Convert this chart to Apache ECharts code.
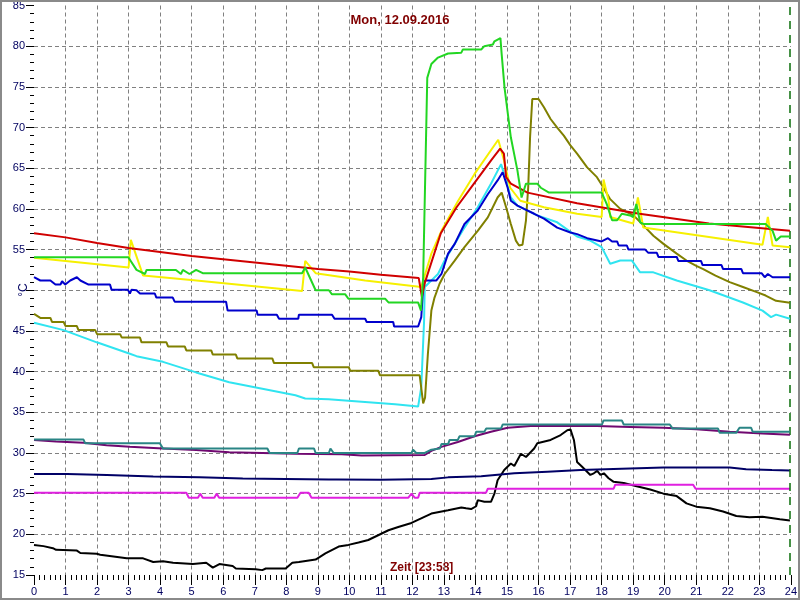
<!DOCTYPE html>
<html>
<head>
<meta charset="utf-8">
<script src="https://cdn.jsdelivr.net/npm/echarts@6/dist/echarts.min.js"></script>
<style>html,body{margin:0;padding:0;background:#fff}#c{width:800px;height:600px}</style>
</head>
<body>
<div id="c"></div>
<script>
// ---- data: [hour, °C] ----
const title = 'Mon, 12.09.2016';
const xName = 'Zeit [23:58]';
const yUnit = '°C';
const nowHour = 23.97;
const xTicks = [0, 24, 1];   // min, max, step (hours)
const yTicks = [15, 85, 5];  // min, max, step (°C)

const green = [[0,54.05],[2.99,54.05],[3.25,52.5],[3.52,52.0],[3.57,52.5],[4.5,52.5],[4.66,52.0],[4.72,52.5],[4.93,52.0],[5.14,52.5],[5.35,52.1],[8.5,52.1],[8.6,52.8],[8.93,50.0],[9.35,50.0],[9.45,49.5],[9.87,49.5],[9.97,48.95],[11.14,48.95],[11.24,48.5],[12.18,48.5],[12.27,47.5],[12.34,51.6],[12.47,76.1],[12.6,77.8],[12.81,78.6],[13.13,79.1],[13.55,79.2],[13.6,79.6],[14.18,79.6],[14.28,80.0],[14.55,80.2],[14.6,80.6],[14.79,81.0],[14.83,79.0],[14.92,74.9],[15.12,68.8],[15.33,64.7],[15.46,61.4],[15.6,63.1],[15.96,63.1],[16.07,62.6],[16.33,62.0],[18.0,62.0],[18.16,60.6],[18.33,58.6],[18.49,58.6],[18.64,59.4],[18.9,59.2],[19.0,59.0],[19.1,60.6],[19.22,58.35],[19.32,58.15],[23.2,58.15],[23.42,57.3],[23.53,56.1],[23.68,56.6],[23.97,56.6]];
const yellow = [[0,54.0],[1,53.6],[2,53.2],[3.0,52.8],[3.07,56.2],[3.46,51.8],[5.15,51.2],[8.5,49.9],[8.6,53.6],[8.93,52.1],[10.5,51.2],[12.28,50.4],[12.6,54.5],[12.92,57.3],[13.45,61.0],[13.97,64.3],[14.72,68.5],[14.9,66.0],[15.1,62.6],[15.42,61.0],[16.17,60.2],[17.22,59.4],[18.0,59.0],[18.06,63.6],[18.22,61.0],[18.27,59.0],[19.0,58.2],[19.15,61.4],[19.32,57.7],[23.1,55.6],[23.27,59.0],[23.42,55.5],[23.97,55.3]];
const red = [[0,57.0],[1,56.5],[2,55.8],[3,55.2],[4,54.7],[5,54.2],[6,53.8],[7,53.4],[8,53.0],[9,52.6],[10,52.3],[11,51.9],[12.2,51.5],[12.3,49.2],[12.4,51.0],[12.9,57.0],[13.4,60.2],[13.95,63.1],[14.5,66.0],[14.78,67.4],[14.9,66.8],[14.97,63.9],[15.12,63.1],[15.65,62.0],[17.22,60.7],[19.2,59.4],[21.4,58.2],[23.97,57.3]];
const blue = [[0,51.6],[0.2,51.2],[0.52,51.2],[0.68,50.7],[0.84,50.7],[0.89,51.1],[0.99,50.7],[1.15,51.2],[1.36,51.6],[1.47,51.2],[1.73,50.7],[2.41,50.7],[2.46,50.05],[2.98,50.05],[3.04,49.6],[3.09,50.05],[3.25,50.0],[3.36,49.6],[3.83,49.6],[3.88,49.1],[4.4,49.1],[4.46,48.6],[6.09,48.6],[6.14,47.5],[7.06,47.5],[7.09,47.0],[7.7,47.0],[7.77,46.5],[8.38,46.5],[8.4,47.0],[9.45,47.0],[9.53,46.5],[10.5,46.5],[10.55,46.1],[11.39,46.1],[11.42,45.55],[12.18,45.55],[12.28,46.7],[12.34,50.4],[12.39,51.2],[12.76,51.2],[12.92,52.0],[13.13,54.5],[13.34,55.7],[13.65,58.15],[14.07,59.8],[14.39,61.8],[14.7,63.5],[14.86,64.5],[15.02,62.6],[15.12,61.0],[15.33,60.4],[15.54,60.0],[15.86,59.4],[16.17,58.8],[16.59,57.7],[17.01,57.1],[17.22,56.9],[17.54,56.4],[18.0,56.0],[18.2,56.4],[18.33,56.0],[18.49,56.0],[18.54,55.5],[18.8,55.5],[18.85,55.0],[19.38,55.0],[19.48,54.6],[19.75,54.6],[19.8,54.1],[20.38,54.1],[20.43,53.6],[21.15,53.6],[21.2,53.1],[21.8,53.1],[21.85,52.6],[22.43,52.6],[22.48,52.1],[23.07,52.1],[23.17,51.6],[23.27,52.0],[23.42,51.6],[23.97,51.6]];
const olive = [[0,47.1],[0.2,46.6],[0.52,46.6],[0.57,46.1],[0.94,46.1],[1.0,45.6],[1.36,45.6],[1.41,45.1],[1.94,45.1],[2.0,44.6],[2.73,44.6],[2.78,44.2],[3.36,44.2],[3.41,43.6],[4.2,43.6],[4.25,43.1],[4.78,43.1],[4.83,42.6],[5.62,42.6],[5.67,42.1],[6.4,42.1],[6.45,41.6],[7.56,41.6],[7.61,41.05],[8.82,41.05],[8.87,40.55],[9.98,40.55],[10.03,40.1],[10.92,40.1],[10.97,39.55],[12.23,39.55],[12.34,36.1],[12.4,36.8],[12.49,42.2],[12.6,47.5],[12.7,49.1],[12.86,50.8],[13.02,52.0],[13.34,53.65],[13.65,55.3],[14.07,57.3],[14.39,58.96],[14.7,61.4],[14.83,62.0],[14.97,60.2],[15.12,58.15],[15.28,56.1],[15.38,55.5],[15.49,55.6],[15.6,58.6],[15.67,62.6],[15.73,68.8],[15.8,73.5],[16.0,73.5],[16.17,72.5],[16.38,71.05],[16.59,70.0],[16.8,69.0],[17.01,67.8],[17.22,66.8],[17.54,65.1],[17.85,63.9],[18.06,62.6],[18.27,61.2],[18.59,60.0],[19.01,59.2],[19.33,57.95],[19.64,56.7],[19.96,55.7],[20.38,54.5],[20.69,53.65],[21.0,53.0],[21.22,52.6],[21.61,51.8],[22.06,51.0],[22.48,50.4],[22.9,49.8],[23.2,49.35],[23.53,48.7],[23.97,48.45]];
const cyan = [[0,46.0],[0.94,45.1],[1.99,43.6],[3.04,42.2],[3.25,41.9],[4.09,41.2],[5.14,39.9],[6.19,38.7],[7.24,37.9],[8.29,37.1],[8.6,36.7],[9.34,36.6],[10.39,36.3],[11.45,36.0],[12.18,35.7],[12.23,35.85],[12.28,38.1],[12.37,46.3],[12.39,50.4],[12.6,51.2],[12.81,52.0],[13.02,53.65],[13.34,55.7],[13.65,57.7],[14.07,60.2],[14.49,63.1],[14.81,65.5],[14.97,63.5],[15.12,61.4],[15.33,60.4],[15.96,59.2],[16.59,58.35],[17.22,56.6],[17.64,56.1],[18.0,55.3],[18.27,53.25],[18.59,53.65],[18.96,53.65],[19.22,52.2],[19.64,52.2],[20.38,51.2],[21.42,50.0],[22.48,48.5],[23.1,47.5],[23.37,46.7],[23.53,47.0],[23.97,46.5]];
const teal = [[0,31.65],[1.57,31.65],[1.62,31.2],[3.99,31.2],[4.09,30.55],[7.4,30.55],[7.47,30.0],[8.35,30.0],[8.4,30.55],[8.88,30.55],[8.93,30.0],[9.35,30.0],[9.4,30.55],[9.5,30.0],[11.97,30.0],[12.02,30.4],[12.12,30.0],[12.39,30.0],[12.6,30.4],[12.87,30.55],[12.92,31.1],[13.13,31.1],[13.18,31.6],[13.44,31.6],[13.49,32.05],[13.97,32.05],[14.02,32.6],[14.28,32.6],[14.34,33.0],[14.81,33.0],[14.86,33.5],[18.01,33.5],[18.06,34.0],[18.64,34.0],[18.7,33.5],[20.16,33.5],[20.25,33.0],[21.69,33.0],[21.74,32.5],[22.27,32.5],[22.37,33.1],[22.74,33.1],[22.79,32.6],[23.97,32.6]];
const purple = [[0,31.6],[0.7,31.4],[1.57,31.25],[2.3,30.95],[3.04,30.75],[4.09,30.55],[5.14,30.35],[6.19,30.1],[7.24,30.0],[8.29,29.9],[9.76,29.85],[10.39,29.7],[12.39,29.75],[12.6,30.25],[12.92,30.75],[13.44,31.35],[13.97,32.05],[14.49,32.6],[15.02,33.1],[15.75,33.3],[16.8,33.3],[17.85,33.3],[18.9,33.2],[19.96,33.1],[21.0,32.9],[22.06,32.6],[23.1,32.4],[23.97,32.25]];
const navy = [[0,27.4],[1.05,27.4],[1.1,27.3],[2.31,27.3],[2.36,27.1],[3.78,27.1],[3.83,27.0],[5.25,27.0],[5.3,26.85],[6.62,26.85],[6.67,26.75],[9.35,26.75],[9.4,26.6],[9.6,26.75],[11.0,26.7],[12.6,26.8],[13.13,27.0],[14.18,27.15],[15.23,27.5],[16.28,27.7],[17.33,27.9],[18.9,28.1],[19.96,28.2],[22.06,28.2],[22.58,28.0],[23.4,27.9],[23.97,27.85]];
const magenta = [[0,25.1],[4.83,25.1],[4.91,24.5],[5.2,24.5],[5.27,25.0],[5.35,24.5],[5.72,24.5],[5.79,25.0],[5.87,24.5],[8.35,24.5],[8.45,25.1],[8.71,25.1],[8.8,24.5],[11.87,24.5],[11.97,25.0],[12.07,24.5],[12.18,24.5],[12.23,25.1],[14.33,25.1],[14.39,25.6],[18.38,25.6],[18.43,26.1],[20.9,26.1],[20.98,25.6],[23.97,25.6]];
const black = [[0,18.7],[0.3,18.55],[0.6,18.3],[0.7,18.1],[1.36,18.0],[1.47,17.7],[1.99,17.6],[2.1,17.5],[2.94,17.05],[3.46,17.05],[3.78,16.6],[4.09,16.7],[4.41,16.5],[5.04,16.35],[5.46,16.5],[5.67,15.9],[5.88,16.35],[6.3,16.1],[6.4,15.8],[7.03,15.7],[7.24,15.6],[7.35,15.8],[7.98,15.8],[8.19,16.5],[8.4,16.6],[8.93,16.9],[9.24,17.65],[9.66,18.5],[9.97,18.7],[10.29,19.0],[10.6,19.3],[11.24,20.5],[11.55,20.9],[11.97,21.4],[12.6,22.55],[13.13,22.95],[13.55,23.3],[13.7,23.2],[13.86,23.1],[14.02,23.45],[14.07,24.2],[14.28,24.0],[14.49,24.0],[14.6,25.0],[14.7,26.65],[14.91,27.9],[15.12,28.7],[15.23,28.4],[15.44,29.9],[15.6,29.5],[15.86,30.55],[15.96,31.2],[16.38,31.6],[16.7,32.2],[16.91,32.8],[17.01,32.9],[17.06,32.7],[17.12,31.6],[17.22,28.9],[17.38,28.3],[17.64,27.3],[17.75,27.5],[17.86,27.8],[17.96,27.3],[18.07,27.5],[18.22,26.9],[18.38,26.45],[18.7,26.3],[19.11,25.9],[19.54,25.5],[19.96,25.0],[20.38,24.7],[20.69,23.8],[21.0,23.4],[21.43,23.2],[21.85,22.8],[22.27,22.25],[22.69,22.1],[23.1,22.15],[23.65,21.85],[23.97,21.7]];

const seriesList = [
  {name:'black', data:black, color:'#000000'},
  {name:'magenta', data:magenta, color:'#e020e0'},
  {name:'navy', data:navy, color:'#000066'},
  {name:'purple', data:purple, color:'#700870'},
  {name:'teal', data:teal, color:'#2a8585'},
  {name:'cyan', data:cyan, color:'#30e4f0'},
  {name:'olive', data:olive, color:'#808000'},
  {name:'blue', data:blue, color:'#0000cc'},
  {name:'yellow', data:yellow, color:'#f6f000'},
  {name:'red', data:red, color:'#d00000'},
  {name:'green', data:green, color:'#22d622'}
];

const chart = echarts.init(document.getElementById('c'), null, {renderer:'canvas'});
const font = 'Liberation Sans, Arial, sans-serif';
const grid = {left:34, right:5, top:4.5, bottom:25};
const series = seriesList.map((s, i) => ({
  type:'line', name:s.name, data:s.data, symbol:'none', animation:false,
  lineStyle:{color:s.color, width:2}, itemStyle:{color:s.color}, z:2+i,
  markLine: i === 0 ? {
    silent:true, symbol:'none', label:{show:false}, animation:false,
    lineStyle:{color:'#0a6e0a', type:[8,6], width:1.5},
    data:[{xAxis:nowHour}]
  } : undefined
}));

chart.setOption({
  animation:false,
  backgroundColor:'#ffffff',
  title:{text:title, left:'center', top:9, textStyle:{color:'#800000', fontSize:13, fontWeight:'bold', fontFamily:font}},
  grid:grid,
  xAxis:{
    type:'value', min:xTicks[0], max:xTicks[1], interval:xTicks[2],
    axisLine:{show:false},
    axisTick:{show:true, length:10, lineStyle:{color:'#000'}},
    minorTick:{show:true, splitNumber:6, length:5, lineStyle:{color:'#000'}},
    axisLabel:{color:'#000060', fontSize:11, fontFamily:font, margin:11, showMinLabel:true, showMaxLabel:true},
    splitLine:{show:true, showMinLine:false, showMaxLine:false, lineStyle:{color:'#808080', type:[4,3], width:1}}
  },
  yAxis:{
    type:'value', min:yTicks[0], max:yTicks[1], interval:yTicks[2],
    axisLine:{show:false},
    axisTick:{show:true, length:8, lineStyle:{color:'#000'}},
    minorTick:{show:true, splitNumber:5, length:4, lineStyle:{color:'#000'}},
    axisLabel:{color:'#000060', fontSize:11, fontFamily:font, margin:9,
      formatter:v => v === 50 ? '' : String(v)},
    splitLine:{show:true, showMinLine:false, showMaxLine:false, lineStyle:{color:'#808080', type:[4,3], width:1}}
  },
  graphic:[
    {type:'text', left:390, top:562, style:{text:xName, fill:'#800000', font:'bold 12px ' + font}},
    {type:'text', x:30, y:290, rotation:Math.PI/2, style:{text:yUnit, fill:'#000060', font:'12px ' + font, align:'center', verticalAlign:'bottom'}},
    {type:'rect', shape:{x:1, y:1, width:798, height:598}, style:{fill:null, stroke:'#8a8a8a', lineWidth:2}, silent:true, z:100}
  ],
  series:series
});
</script>
</body>
</html>
